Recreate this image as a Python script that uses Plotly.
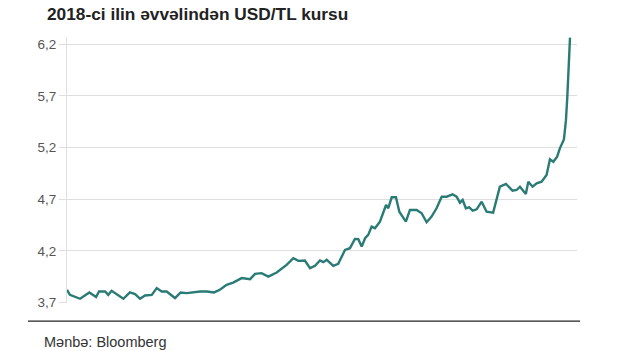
import plotly.graph_objects as go

# Days since start of 2018 (approx.) and USD/TRY rate
days = [0, 1.3, 5.8, 9.9, 12.9, 14.2, 16.9, 18.3, 19.8, 22.0, 25.0, 27.9, 30.2, 32.4, 34.6,
        37.6, 39.8, 42.0, 44.2, 47.9, 50.4, 53.1, 59.0, 62.0, 65.2, 67.8, 70.8, 73.7, 77.5,
        81.2, 83.4, 86.3, 89.3, 93.0, 95.9, 97.4, 100.4, 102.6, 105.5, 107.8, 110.0, 112.2,
        113.7, 115.2, 118.1, 120.3, 123.3, 125.5, 127.7, 129.2, 130.7, 132.2, 133.6, 135.1,
        136.6, 138.8, 141.5, 142.5, 144.0, 145.9, 147.4, 150.3, 152.1, 155.1, 157.3, 159.5,
        161.7, 163.9, 166.2, 168.4, 171.0, 172.8, 174.3, 175.5, 176.9, 178.4, 179.9, 181.7,
        183.9, 186.1, 189.0, 192.0, 194.7, 197.6, 199.4, 200.9, 203.5, 204.6, 206.5, 208.3,
        210.5, 212.7, 214.2, 215.7, 217.4, 218.6, 220.4, 221.3, 221.9, 223.1]
rate = [3.823, 3.774, 3.736, 3.797, 3.752, 3.806, 3.806, 3.774, 3.813, 3.784, 3.736, 3.797,
        3.781, 3.736, 3.768, 3.774, 3.839, 3.806, 3.806, 3.743, 3.797, 3.791, 3.806, 3.806,
        3.797, 3.823, 3.871, 3.893, 3.936, 3.926, 3.977, 3.984, 3.951, 3.990, 4.040, 4.064,
        4.129, 4.103, 4.106, 4.032, 4.055, 4.106, 4.090, 4.113, 4.055, 4.074, 4.209, 4.226,
        4.315, 4.313, 4.241, 4.322, 4.354, 4.434, 4.419, 4.483, 4.644, 4.612, 4.718, 4.718,
        4.579, 4.483, 4.596, 4.596, 4.564, 4.477, 4.531, 4.612, 4.724, 4.724, 4.747, 4.724,
        4.666, 4.692, 4.612, 4.622, 4.589, 4.602, 4.676, 4.579, 4.570, 4.821, 4.847, 4.782,
        4.789, 4.821, 4.750, 4.869, 4.821, 4.854, 4.869, 4.934, 5.086, 5.062, 5.111, 5.192,
        5.279, 5.465, 5.690, 6.264]

tick_vals = [3.7, 4.2, 4.7, 5.2, 5.7, 6.2]
tick_text = ["3,7", "4,2", "4,7", "5,2", "5,7", "6,2"]

title = "2018-ci ilin əvvəlindən USD/TL kursu"
source = "Mənbə: Bloomberg"

fig = go.Figure()
fig.add_trace(go.Scatter(x=days, y=rate, mode="lines",
                         line=dict(color="#2a7b76", width=2.4),
                         hoverinfo="skip", showlegend=False))

fig.update_layout(
    width=624, height=351,
    margin=dict(l=67, r=47, t=37, b=48),
    paper_bgcolor="white", plot_bgcolor="white",
    font=dict(family="Liberation Sans, Arial, sans-serif"),
    xaxis=dict(range=[0, 226.2], showgrid=False, zeroline=False,
               showticklabels=False, ticks="", showline=False, fixedrange=True),
    yaxis=dict(range=[3.695, 6.27], tickvals=tick_vals, ticktext=tick_text,
               showgrid=True, gridcolor="#dedede", gridwidth=1,
               zeroline=False, showline=True, linecolor="#dedede", linewidth=1,
               ticks="outside", ticklen=7, tickcolor="#dedede",
               tickfont=dict(size=13.5, color="#555555"), fixedrange=True),
    shapes=[dict(type="line", xref="paper", yref="paper",
                 x0=-0.0765, x1=1.006, y0=-0.068, y1=-0.068,
                 line=dict(color="#222222", width=1.3))],
    annotations=[
        dict(text="<b>" + title + "</b>", xref="paper", yref="paper",
             x=-0.043, y=1.088, xanchor="left", yanchor="middle",
             showarrow=False, font=dict(size=17.3, color="#222222")),
        dict(text=source, xref="paper", yref="paper",
             x=-0.049, y=-0.147, xanchor="left", yanchor="middle",
             showarrow=False, font=dict(size=14.5, color="#333333")),
    ],
)

fig.write_html("out.html")
